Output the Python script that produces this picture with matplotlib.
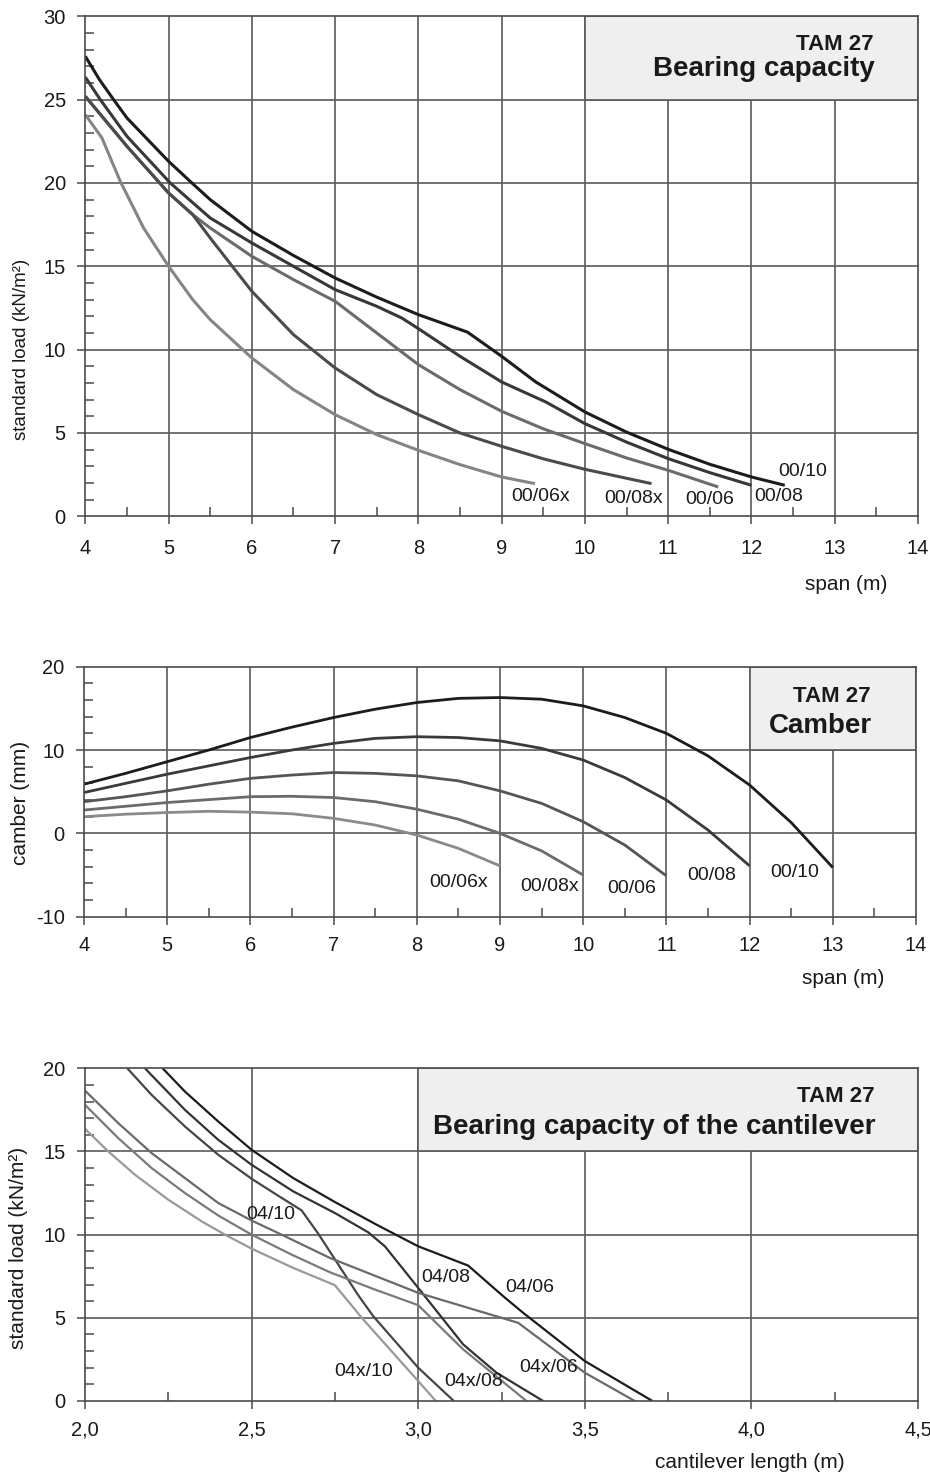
import matplotlib
matplotlib.use('Agg')
import matplotlib.pyplot as plt
from matplotlib.patches import Rectangle
from matplotlib.ticker import MultipleLocator, FuncFormatter

plt.rcParams['font.family'] = ['Liberation Sans', 'DejaVu Sans']
plt.rcParams['axes.unicode_minus'] = False

# ---------------- data: top chart (bearing capacity) ----------------
top_x_0010 = [4.0, 4.17, 4.34, 4.5, 5.0, 5.28, 5.5, 6.0, 6.5, 7.0, 7.5, 8.0, 8.59, 9.0, 9.41, 10.0, 10.5, 11.0, 11.5, 12.0, 12.4]
top_y_0010 = [27.6, 26.2, 25.0, 23.9, 21.3, 20.0, 19.0, 17.1, 15.65, 14.3, 13.15, 12.1, 11.05, 9.6, 8.06, 6.26, 5.05, 4.02, 3.12, 2.36, 1.86]
top_x_0008 = [4.0, 4.18, 4.5, 5.02, 5.5, 6.0, 6.5, 7.0, 7.5, 7.8, 8.0, 8.5, 9.0, 9.53, 10.0, 10.5, 11.0, 11.5, 12.0]
top_y_0008 = [26.35, 25.0, 22.8, 20.0, 17.9, 16.4, 15.0, 13.6, 12.6, 11.9, 11.26, 9.6, 8.06, 6.86, 5.56, 4.45, 3.46, 2.62, 1.86]
top_x_0006 = [4.0, 4.5, 5.0, 5.29, 5.5, 6.0, 6.5, 7.0, 7.5, 8.0, 8.5, 9.0, 9.5, 10.0, 10.5, 11.0, 11.6]
top_y_0006 = [25.2, 22.2, 19.4, 18.1, 17.3, 15.6, 14.2, 12.9, 11.0, 9.1, 7.6, 6.3, 5.25, 4.36, 3.5, 2.76, 1.76]
top_x_0008x = [4.0, 4.5, 5.0, 5.29, 5.5, 6.0, 6.5, 7.0, 7.5, 8.0, 8.5, 9.0, 9.5, 10.0, 10.8]
top_y_0008x = [25.2, 22.2, 19.4, 18.1, 16.7, 13.5, 10.9, 8.9, 7.3, 6.1, 5.0, 4.2, 3.45, 2.82, 1.96]
top_x_0006x = [4.0, 4.2, 4.42, 4.7, 5.0, 5.29, 5.5, 6.0, 6.5, 7.0, 7.5, 8.0, 8.5, 9.0, 9.4]
top_y_0006x = [24.1, 22.7, 20.1, 17.3, 15.0, 13.0, 11.8, 9.5, 7.6, 6.1, 4.9, 3.96, 3.1, 2.36, 1.96]
top_labels = ['00/10', '00/08', '00/06', '00/08x', '00/06x']
top_label_x = [12.62, 12.33, 11.5, 10.59, 9.47]
top_label_y = [2.66, 1.16, 1.0, 1.06, 1.16]

# ---------------- data: middle chart (camber) ----------------
mid_x_0010 = [4, 4.5, 5, 5.5, 6, 6.5, 7, 7.5, 8, 8.5, 9, 9.5, 10, 10.5, 11, 11.5, 12, 12.5, 13]
mid_y_0010 = [5.9, 7.2, 8.6, 10.0, 11.5, 12.75, 13.9, 14.9, 15.7, 16.2, 16.3, 16.1, 15.3, 13.9, 12.0, 9.3, 5.8, 1.3, -4.1]
mid_x_0008 = [4, 4.5, 5, 5.5, 6, 6.5, 7, 7.5, 8, 8.5, 9, 9.5, 10, 10.5, 11, 11.5, 12]
mid_y_0008 = [4.9, 6.0, 7.1, 8.1, 9.1, 10.0, 10.8, 11.4, 11.6, 11.5, 11.1, 10.2, 8.8, 6.7, 4.0, 0.4, -3.9]
mid_x_0006 = [4, 4.5, 5, 5.5, 6, 6.5, 7, 7.5, 8, 8.5, 9, 9.5, 10, 10.5, 11]
mid_y_0006 = [3.8, 4.4, 5.1, 5.9, 6.6, 7.0, 7.3, 7.2, 6.9, 6.3, 5.1, 3.6, 1.4, -1.4, -5.1]
mid_x_0008x = [4, 4.5, 5, 5.5, 6, 6.5, 7, 7.5, 8, 8.5, 9, 9.5, 10]
mid_y_0008x = [2.8, 3.25, 3.7, 4.05, 4.4, 4.45, 4.3, 3.8, 2.9, 1.7, 0.0, -2.1, -5.0]
mid_x_0006x = [4, 4.5, 5, 5.5, 6, 6.5, 7, 7.5, 8, 8.5, 9]
mid_y_0006x = [2.0, 2.3, 2.5, 2.65, 2.55, 2.35, 1.8, 1.0, -0.2, -1.8, -3.9]
mid_labels = ['00/10', '00/08', '00/06', '00/08x', '00/06x']
mid_label_x = [12.54, 11.55, 10.58, 9.59, 8.5]
mid_label_y = [-4.7, -5.1, -6.6, -6.4, -5.9]

# ---------------- data: bottom chart (cantilever) ----------------
bot_x_0406 = [2.233, 2.3, 2.4, 2.5, 2.625, 2.75, 2.875, 3.0, 3.15, 3.255, 3.315, 3.5, 3.703]
bot_y_0406 = [20.0, 18.6, 16.8, 15.1, 13.4, 11.96, 10.6, 9.3, 8.14, 6.3, 5.3, 2.4, 0.0]
bot_x_0408 = [2.18, 2.3, 2.4, 2.5, 2.625, 2.75, 2.85, 2.9, 3.0, 3.135, 3.235, 3.375]
bot_y_0408 = [20.0, 17.5, 15.7, 14.2, 12.6, 11.3, 10.14, 9.3, 6.8, 3.4, 1.7, 0.0]
bot_x_0410 = [2.127, 2.2, 2.3, 2.4, 2.5, 2.575, 2.65, 2.7, 2.82, 2.865, 3.0, 3.107]
bot_y_0410 = [20.0, 18.4, 16.5, 14.8, 13.36, 12.4, 11.46, 10.06, 6.36, 5.1, 2.0, 0.0]
bot_x_04x06 = [2.0, 2.1, 2.2, 2.3, 2.4, 2.5, 2.59, 2.735, 3.0, 3.3, 3.5, 3.65]
bot_y_04x06 = [18.66, 16.7, 14.9, 13.4, 11.9, 10.85, 10.0, 8.6, 6.5, 4.7, 1.7, 0.0]
bot_x_04x08 = [2.0, 2.1, 2.2, 2.3, 2.4, 2.5, 2.62, 2.735, 2.87, 3.0, 3.135, 3.325]
bot_y_04x08 = [17.8, 15.8, 14.0, 12.5, 11.15, 10.0, 8.8, 7.74, 6.7, 5.76, 3.1, 0.0]
bot_x_04x10 = [2.0, 2.07, 2.15, 2.25, 2.35, 2.42, 2.5, 2.625, 2.75, 2.835, 3.0, 3.053]
bot_y_04x10 = [16.36, 15.0, 13.6, 12.1, 10.8, 10.0, 9.16, 8.0, 6.96, 4.9, 1.2, 0.0]
bot_labels = ['04/10', '04/08', '04/06', '04x/10', '04x/08', '04x/06']
bot_label_x = [2.557, 3.083, 3.335, 2.835, 3.167, 3.392]
bot_label_y = [11.2, 7.4, 6.8, 1.76, 1.2, 2.0]

GRID = '#5a5a5a'
SPINE = '#4a4a4a'
BOX = '#efeff0'
TXT = '#1a1a1a'

fig = plt.figure(figsize=(9.3, 14.75), dpi=100)
W, H = 930.0, 1475.0


def make_axes(left, right, top, bottom):
    return fig.add_axes([left / W, 1 - bottom / H, (right - left) / W, (bottom - top) / H])


def style(ax, xlim, ylim, xmaj, xmin, ymaj, ymin, vgrid, hgrid, box, xpad, fmt=None):
    ax.set_xlim(*xlim)
    ax.set_ylim(*ylim)
    ax.xaxis.set_major_locator(MultipleLocator(xmaj))
    ax.xaxis.set_minor_locator(MultipleLocator(xmin))
    ax.yaxis.set_major_locator(MultipleLocator(ymaj))
    ax.yaxis.set_minor_locator(MultipleLocator(ymin))
    if fmt is not None:
        ax.xaxis.set_major_formatter(FuncFormatter(fmt))
    for v in vgrid:
        ax.axvline(v, color=GRID, lw=1.2, zorder=1)
    for h in hgrid:
        ax.axhline(h, color=GRID, lw=1.2, zorder=1)
    bx0, bx1, by0, by1 = box
    ax.add_patch(Rectangle((bx0, by0), bx1 - bx0, by1 - by0, facecolor=BOX,
                           edgecolor=GRID, lw=1.2, zorder=1.5))
    for s in ax.spines.values():
        s.set_color(SPINE)
        s.set_linewidth(1.2)
        s.set_zorder(3)
    ax.tick_params(which='major', direction='out', length=6, width=1.1, color=SPINE,
                   labelsize=14.5, labelcolor=TXT)
    ax.tick_params(which='minor', direction='in', length=6.5, width=1.1, color=SPINE)
    ax.tick_params(axis='y', which='major', pad=8)
    ax.tick_params(axis='x', which='major', pad=xpad)


# ---------------- top chart ----------------
ax1 = make_axes(85.3, 918, 16.3, 516.3)
style(ax1, (4, 14), (0, 30), 1, 0.5, 5, 1, range(5, 14), range(5, 30, 5), (10, 14, 25, 30), 10)
top_series = [
    (top_x_0010, top_y_0010, '#1c1c1c'),
    (top_x_0008, top_y_0008, '#383838'),
    (top_x_0006, top_y_0006, '#6b6b6b'),
    (top_x_0008x, top_y_0008x, '#4b4b4b'),
    (top_x_0006x, top_y_0006x, '#858585'),
]
for xs, ys, c in top_series:
    ax1.plot(xs, ys, color=c, lw=2.2, zorder=2, solid_joinstyle='round', solid_capstyle='butt')
for t, x, y in zip(top_labels, top_label_x, top_label_y):
    ax1.text(x, y, t, ha='center', va='center', fontsize=14, color=TXT, zorder=4)
ax1.text(13.47, 27.97, 'TAM 27', ha='right', va='baseline', fontsize=16, fontweight='bold', color=TXT, zorder=4)
ax1.text(13.48, 26.41, 'Bearing capacity', ha='right', va='baseline', fontsize=20, fontweight='bold', color=TXT, zorder=4)
fig.text(22 / W, 1 - 349 / H, 'standard load (kN/m²)', rotation=90, ha='center', va='center', fontsize=13.5, color=TXT)
fig.text(887 / W, 1 - 584 / H, 'span (m)', ha='right', va='center', fontsize=15, color=TXT)

# ---------------- middle chart ----------------
ax2 = make_axes(84, 916, 666.7, 916.7)
style(ax2, (4, 14), (-10, 20), 1, 0.5, 10, 2, range(5, 14), [0, 10], (12, 14, 10, 20), 8)
mid_series = [
    (mid_x_0010, mid_y_0010, '#1c1c1c'),
    (mid_x_0008, mid_y_0008, '#3a3a3a'),
    (mid_x_0006, mid_y_0006, '#555555'),
    (mid_x_0008x, mid_y_0008x, '#6b6b6b'),
    (mid_x_0006x, mid_y_0006x, '#8a8a8a'),
]
for xs, ys, c in mid_series:
    ax2.plot(xs, ys, color=c, lw=2.0, zorder=2, solid_joinstyle='round', solid_capstyle='butt')
for t, x, y in zip(mid_labels, mid_label_x, mid_label_y):
    ax2.text(x, y, t, ha='center', va='center', fontsize=14, color=TXT, zorder=4)
ax2.text(13.45, 15.8, 'TAM 27', ha='right', va='baseline', fontsize=16, fontweight='bold', color=TXT, zorder=4)
ax2.text(13.47, 12.07, 'Camber', ha='right', va='baseline', fontsize=20, fontweight='bold', color=TXT, zorder=4)
fig.text(20 / W, 1 - 803 / H, 'camber (mm)', rotation=90, ha='center', va='center', fontsize=15, color=TXT)
fig.text(884 / W, 1 - 978 / H, 'span (m)', ha='right', va='center', fontsize=15, color=TXT)

# ---------------- bottom chart ----------------
ax3 = make_axes(85, 918, 1068.3, 1401)
style(ax3, (2.0, 4.5), (0, 20), 0.5, 0.25, 5, 1, [2.5, 3.0, 3.5, 4.0], [5, 10, 15],
      (3.0, 4.5, 15, 20), 8, fmt=lambda v, p: ('%.1f' % v).replace('.', ','))
bot_series = [
    (bot_x_0406, bot_y_0406, '#1c1c1c'),
    (bot_x_0408, bot_y_0408, '#333333'),
    (bot_x_0410, bot_y_0410, '#464646'),
    (bot_x_04x06, bot_y_04x06, '#6a6a6a'),
    (bot_x_04x08, bot_y_04x08, '#7a7a7a'),
    (bot_x_04x10, bot_y_04x10, '#999999'),
]
for xs, ys, c in bot_series:
    ax3.plot(xs, ys, color=c, lw=1.6, zorder=2, solid_joinstyle='round', solid_capstyle='butt')
for t, x, y in zip(bot_labels, bot_label_x, bot_label_y):
    ax3.text(x, y, t, ha='center', va='center', fontsize=14, color=TXT, zorder=4)
ax3.text(4.371, 17.98, 'TAM 27', ha='right', va='baseline', fontsize=16, fontweight='bold', color=TXT, zorder=4)
ax3.text(4.371, 16.03, 'Bearing capacity of the cantilever', ha='right', va='baseline', fontsize=20,
         fontweight='bold', color=TXT, zorder=4)
fig.text(19 / W, 1 - 1248 / H, 'standard load (kN/m²)', rotation=90, ha='center', va='center', fontsize=15, color=TXT)
fig.text(845 / W, 1 - 1463 / H, 'cantilever length (m)', ha='right', va='center', fontsize=15, color=TXT)

fig.savefig('out.png', dpi=100, facecolor='white')
